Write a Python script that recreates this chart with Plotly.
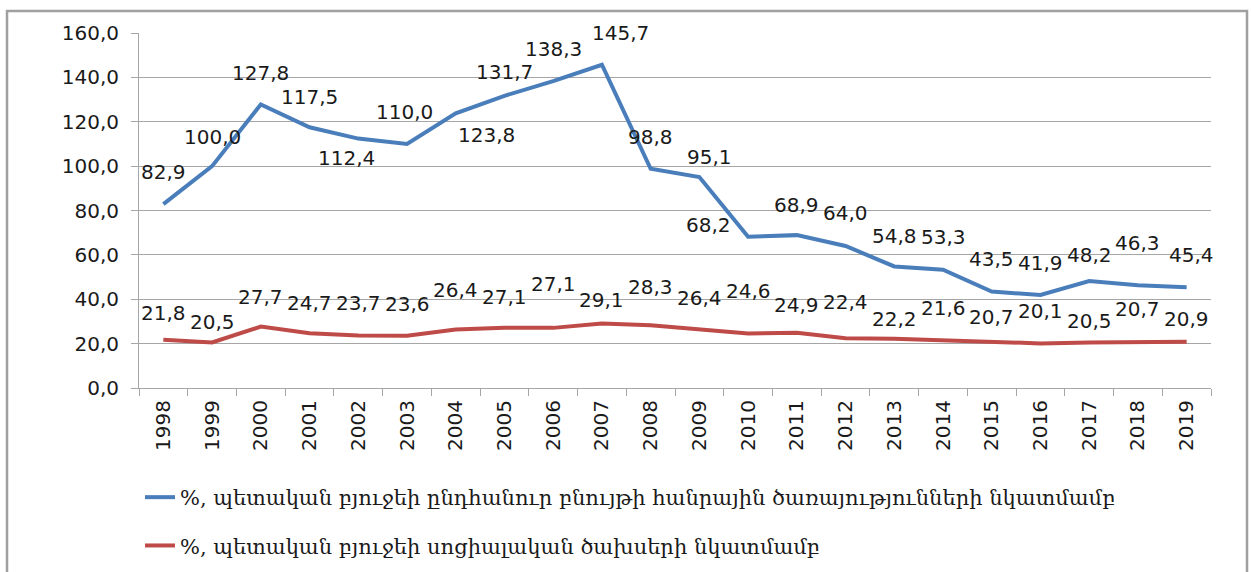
import plotly.graph_objects as go

# Years and the two series (% shares)
years = [str(y) for y in range(1998, 2020)]
general_services = [82.9, 100.0, 127.8, 117.5, 112.4, 110.0, 123.8, 131.7, 138.3, 145.7, 98.8,
                    95.1, 68.2, 68.9, 64.0, 54.8, 53.3, 43.5, 41.9, 48.2, 46.3, 45.4]
social_spending = [21.8, 20.5, 27.7, 24.7, 23.7, 23.6, 26.4, 27.1, 27.1, 29.1, 28.3,
                   26.4, 24.6, 24.9, 22.4, 22.2, 21.6, 20.7, 20.1, 20.5, 20.7, 20.9]

name_general = "%, պետական բյուջեի ընդհանուր բնույթի հանրային ծառայությունների նկատմամբ"
name_social = "%, պետական բյուջեի սոցիալական ծախսերի նկատմամբ"

# Pixel offsets (dx, dy) of each value label relative to its point
general_label_offsets = [(0, 32), (0, 29), (0, 31), (0, 30), (-12, -19), (-3, 32), (31, -22),
                         (0, 24), (0, 32), (19, 32), (0, 32), (10, 20), (-40, 12), (0, 30),
                         (0, 33), (0, 30), (0, 33), (0, 32), (0, 32), (0, 26), (0, 42), (5, 32)]
social_label_offsets = [(0, 27), (0, 21), (0, 30), (0, 30), (0, 32), (0, 32), (0, 39),
                        (0, 31), (0, 44), (0, 23), (0, 38), (0, 31), (0, 42), (0, 28),
                        (0, 36), (0, 20), (0, 32), (0, 25), (0, 32), (0, 22), (0, 33), (0, 23)]

BLUE = "#4A7EBB"
RED = "#BE4B48"
GRID = "#a6a6a6"
TEXT = "#1a1a1a"
LABEL_FONT = dict(family="DejaVu Sans", size=20, color=TEXT)

fig = go.Figure()
fig.add_trace(go.Scatter(x=years, y=general_services, mode="lines", name=name_general,
                         legendgroup="g1", line=dict(color=BLUE, width=4)))
fig.add_trace(go.Scatter(x=years, y=social_spending, mode="lines", name=name_social,
                         legendgroup="g2", line=dict(color=RED, width=4)))


def fmt(v):
    return f"{v:.1f}".replace(".", ",")


annotations = []
for series, offsets in ((general_services, general_label_offsets),
                        (social_spending, social_label_offsets)):
    for i, (v, (dx, dy)) in enumerate(zip(series, offsets)):
        annotations.append(dict(x=i, y=v, xref="x", yref="y", text=fmt(v), showarrow=False,
                                xshift=dx, yshift=dy, font=LABEL_FONT))

W, H = 1251, 572
ml, mr, mt, mb = 139, 40, 33, 184
pw, ph = W - ml - mr, H - mt - mb


def px_to_paper_x(px):
    return (px - ml) / pw


def px_to_paper_y(py):
    return (H - mb - py) / ph


# Outer frame around the whole chart
shapes = [dict(type="rect", xref="paper", yref="paper",
               x0=px_to_paper_x(7), x1=px_to_paper_x(1247),
               y0=px_to_paper_y(585), y1=px_to_paper_y(11),
               line=dict(color="#a0a0a0", width=2.5), layer="below")]

fig.update_layout(
    width=W, height=H,
    margin=dict(l=ml, r=mr, t=mt, b=mb, autoexpand=False),
    paper_bgcolor="white", plot_bgcolor="white",
    separators=", ",
    showlegend=True,
    legend=dict(x=px_to_paper_x(140), y=px_to_paper_y(477), xanchor="left", yanchor="top",
                font=dict(family="DejaVu Serif", size=21, color=TEXT),
                tracegroupgap=18, bgcolor="rgba(0,0,0,0)"),
    annotations=annotations,
    shapes=shapes,
    xaxis=dict(type="category", tickangle=-90, tickson="boundaries", ticks="outside",
               ticklen=7, tickcolor=GRID, showline=True, linecolor=GRID, linewidth=1,
               showgrid=False, tickfont=dict(family="DejaVu Sans", size=20, color=TEXT),
               ticklabelstandoff=3, automargin=False, range=[-0.5, len(years) - 0.5]),
    yaxis=dict(range=[0, 160], dtick=20, tickformat=".1f", ticks="outside", ticklen=7,
               tickcolor=GRID, showline=True, linecolor=GRID, linewidth=1,
               showgrid=True, gridcolor=GRID, gridwidth=1, zeroline=False,
               ticklabelstandoff=8, automargin=False,
               tickfont=dict(family="DejaVu Sans", size=20, color=TEXT)),
)

fig.write_html("out.html")
